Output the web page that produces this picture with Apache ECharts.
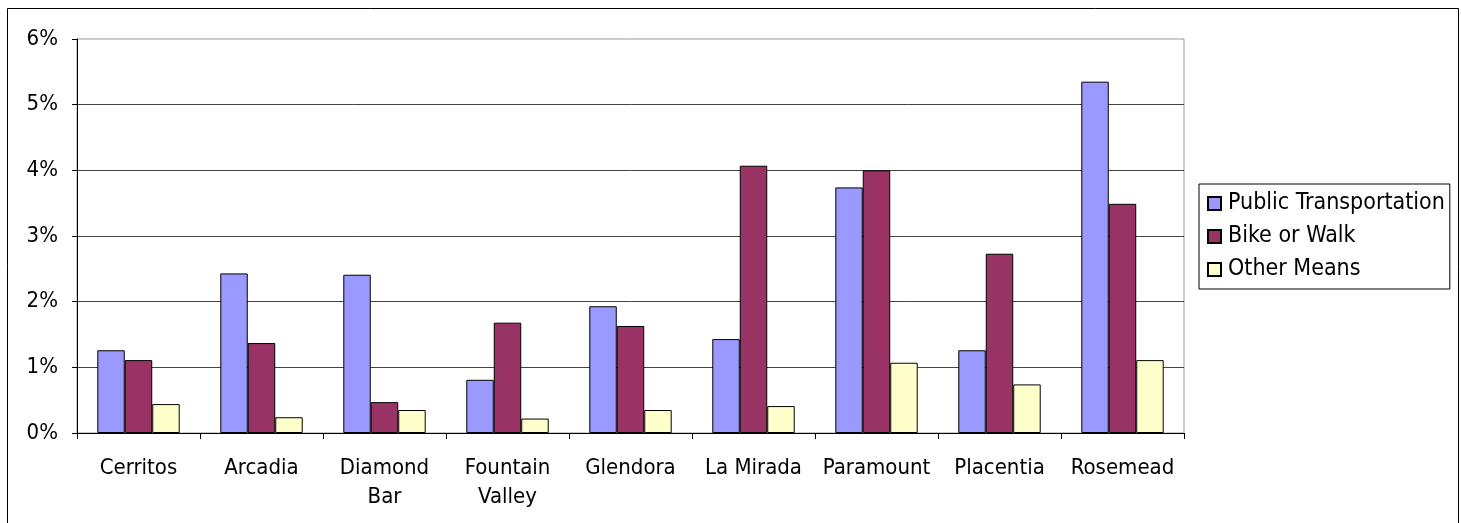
<!DOCTYPE html>
<html>
<head>
<meta charset="utf-8">
<script src="https://cdn.jsdelivr.net/npm/echarts@6/dist/echarts.min.js"></script>
<style>
  html, body { margin: 0; padding: 0; background: #fff; }
  #chart { width: 1461px; height: 523px; }
</style>
</head>
<body>
<div id="chart"></div>
<script>
// Commute mode shares by city (percent of workers)
const cities = ['Cerritos', 'Arcadia', 'Diamond\nBar', 'Fountain\nValley', 'Glendora', 'La Mirada', 'Paramount', 'Placentia', 'Rosemead'];
const publicTransportation = [1.26, 2.43, 2.41, 0.81, 1.93, 1.43, 3.74, 1.26, 5.35];
const bikeOrWalk = [1.11, 1.37, 0.47, 1.68, 1.63, 4.07, 4.00, 2.73, 3.49];
const otherMeans = [0.44, 0.24, 0.35, 0.22, 0.35, 0.41, 1.07, 0.74, 1.11];
const yTicks = [0, 1, 2, 3, 4, 5, 6];

const FONT = '"DejaVu Sans Condensed", "DejaVu Sans", sans-serif';

const chart = echarts.init(document.getElementById('chart'), null, { renderer: 'canvas' });

function barSeries(name, data, color) {
  return {
    name: name,
    type: 'bar',
    data: data,
    barGap: '0%',
    barCategoryGap: '33%',
    itemStyle: { color: color, borderColor: '#000', borderWidth: 1 },
    emphasis: { disabled: true },
    animation: false
  };
}

chart.setOption({
  backgroundColor: '#fff',
  animation: false,
  graphic: [{
    type: 'rect',
    left: 5, top: 6,
    shape: { width: 1451, height: 540 },
    style: { fill: 'none', stroke: '#000', lineWidth: 1 },
    silent: true,
    z: -1
  }],
  grid: {
    left: 77, top: 39, right: 277, bottom: 90,
    show: true, borderColor: '#999', borderWidth: 1, backgroundColor: 'transparent'
  },
  legend: {
    orient: 'vertical',
    left: 1199, top: 184,
    padding: [8, 5, 8, 8],
    itemGap: 10,
    itemWidth: 13, itemHeight: 13,
    icon: 'rect',
    borderColor: '#000', borderWidth: 1,
    textStyle: { fontFamily: FONT, fontSize: 23, color: '#000', padding: [0, 0, 0, 2] },
    data: ['Public Transportation', 'Bike or Walk', 'Other Means']
  },
  xAxis: {
    type: 'category',
    data: cities,
    axisLine: { lineStyle: { color: '#000', width: 1 } },
    axisTick: { show: true, interval: 0, length: 6, lineStyle: { color: '#000' } },
    axisLabel: {
      interval: 0, margin: 21,
      fontFamily: FONT, fontSize: 22, color: '#000', lineHeight: 29
    },
    splitLine: { show: false }
  },
  yAxis: {
    type: 'value',
    min: yTicks[0], max: yTicks[yTicks.length - 1], interval: 1,
    axisLine: { show: true, lineStyle: { color: '#000', width: 1 } },
    axisTick: { show: true, length: 5, lineStyle: { color: '#000' } },
    axisLabel: {
      margin: 19,
      fontFamily: FONT, fontSize: 22, color: '#000',
      formatter: v => v + '%'
    },
    splitLine: { show: true, showMaxLine: false, lineStyle: { color: '#444', width: 1 } }
  },
  series: [
    barSeries('Public Transportation', publicTransportation, '#9999FF'),
    barSeries('Bike or Walk', bikeOrWalk, '#993366'),
    barSeries('Other Means', otherMeans, '#FFFFCC')
  ]
});
</script>
</body>
</html>
